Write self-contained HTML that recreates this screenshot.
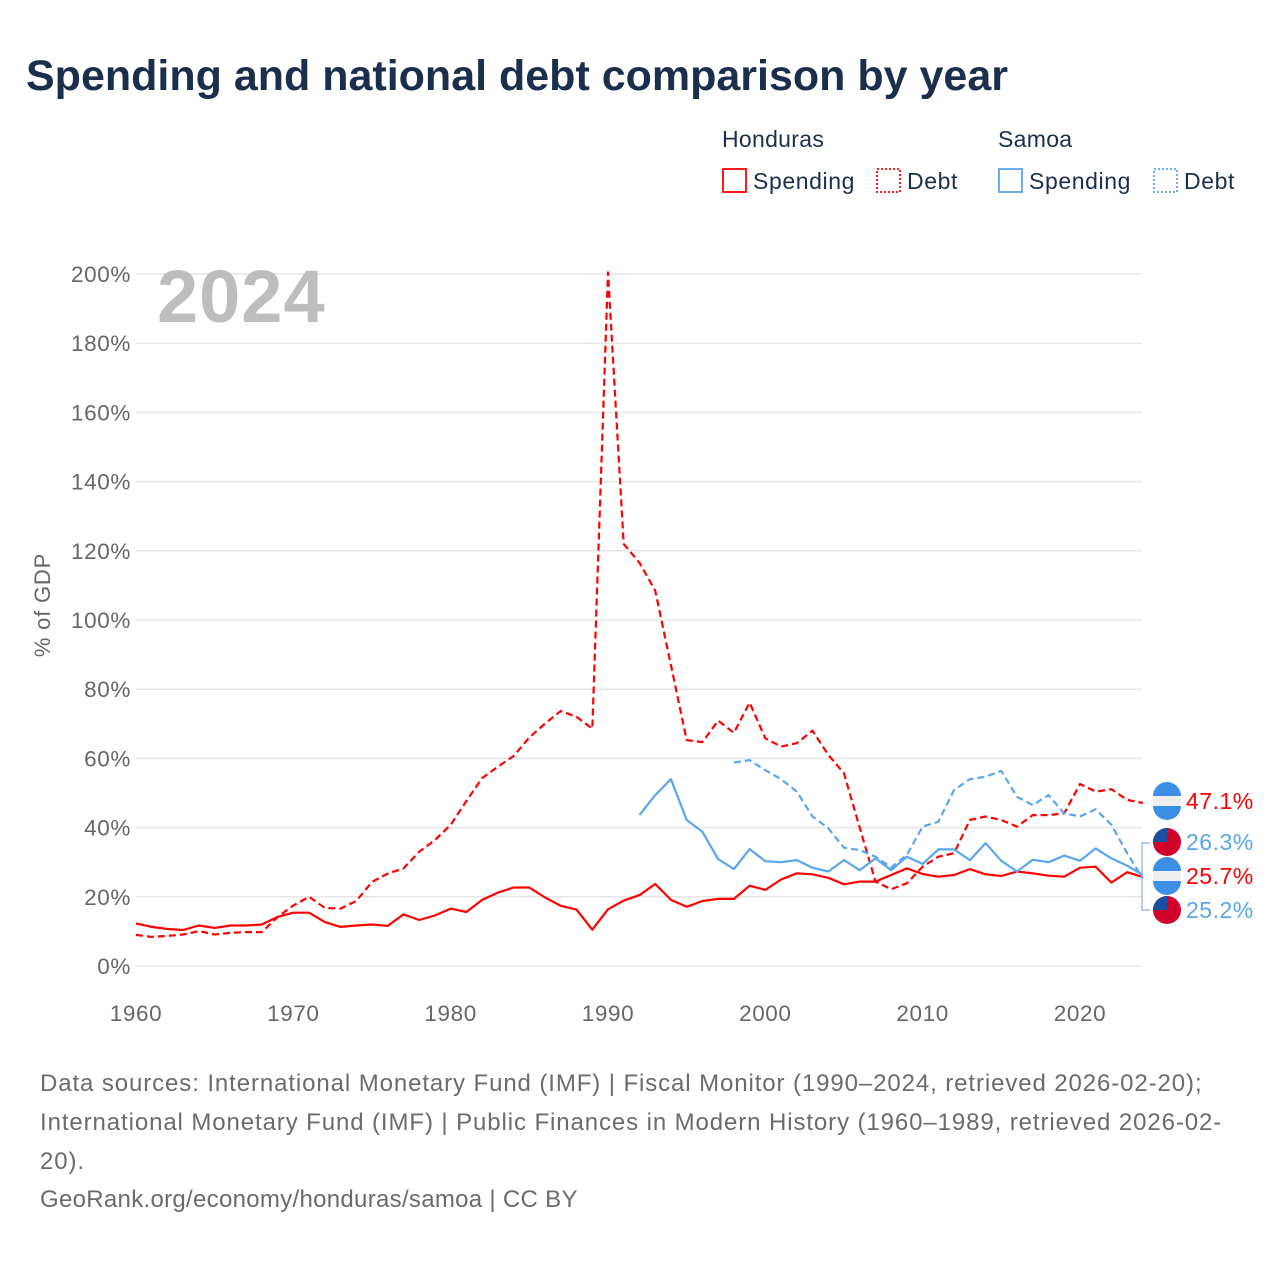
<!DOCTYPE html>
<html><head><meta charset="utf-8">
<style>
body{margin:0;background:#fff;font-family:"Liberation Sans",sans-serif;}
#wrap{position:relative;width:1280px;height:1280px;overflow:hidden;}
h1{position:absolute;left:26px;top:52px;margin:0;font-size:43px;font-weight:bold;color:#1b2f4d;letter-spacing:0px;}
.foot{position:absolute;left:40px;font-size:24px;color:#6b6b6b;letter-spacing:0.9px;}
</style></head>
<body>
<div id="wrap">
<h1>Spending and national debt comparison by year</h1>
<svg id="chart" width="1280" height="1280" style="position:absolute;left:0;top:0"></svg>
<div class="foot" style="top:1070px">Data sources: International Monetary Fund (IMF) | Fiscal Monitor (1990–2024, retrieved 2026-02-20);</div>
<div class="foot" style="top:1109px">International Monetary Fund (IMF) | Public Finances in Modern History (1960–1989, retrieved 2026-02-</div>
<div class="foot" style="top:1148px">20).</div>
<div class="foot" style="top:1186px;letter-spacing:0.3px">GeoRank.org/economy/honduras/samoa | CC BY</div>
</div>
<script>
const yTicks=[0,20,40,60,80,100,120,140,160,180,200];
const xTicks=[1960,1970,1980,1990,2000,2010,2020];
const hndYears0=1960;
const hndSpending=[12.3,11.3,10.7,10.4,11.7,11,11.7,11.7,12,14.2,15.4,15.4,12.7,11.3,11.7,12,11.6,14.9,13.3,14.6,16.6,15.6,19.1,21.2,22.7,22.7,19.8,17.4,16.3,10.5,
16.4,18.9,20.5,23.7,19.1,17.1,18.8,19.4,19.4,23.2,22,25,26.8,26.5,25.5,23.6,24.4,24.4,26.3,28.2,26.6,25.8,26.3,28,26.5,26,27.3,26.8,26.1,25.8,28.4,28.7,24.1,27.1,25.7];
const hndDebt=[9,8.4,8.7,9.1,10.1,9.1,9.6,9.8,9.8,14.2,17.5,20,16.8,16.6,18.8,24.3,26.7,28.2,33,36.4,40.8,47.7,54.3,57.6,60.7,66,70.1,73.7,72,68.6,
200.5,122,116.5,108.5,87,65.3,64.7,70.9,67.4,76.1,65.8,63.4,64.4,68,61,55.7,40,24.4,22.2,23.9,28.7,31.6,32.6,42.2,43.2,42.2,40.3,43.6,43.6,44.1,52.6,50.4,51.1,48,47.1];
const wsmSpendStart=1992;
const wsmSpending=[43.6,49.4,54,42.2,38.8,30.9,28,33.8,30.3,30,30.6,28.4,27.3,30.6,27.7,31.1,27.7,31.6,29.5,33.7,33.7,30.6,35.5,30.4,27.3,30.7,30,31.9,30.4,34,31.1,29,26.3];
const wsmDebtStart=1998;
const wsmDebt=[58.8,59.5,56.6,54,50.4,43.2,39.8,34.2,33.5,31.6,28.5,32.1,40.3,41.7,50.9,54,54.7,56.4,48.9,46.5,49.4,44.1,43.2,45.3,40.8,32.6,25.2];
const endLabels=["47.1%","26.3%","25.7%","25.2%"];

const NS="http://www.w3.org/2000/svg";
const svg=document.getElementById('chart');
const X=y=>136+(y-1960)*15.733;
const Y=v=>966-v*3.46;
function mk(t,a,p){const e=document.createElementNS(NS,t);for(const k in a)e.setAttribute(k,a[k]);(p||svg).appendChild(e);return e;}
function txt(s,a){const e=mk('text',a);e.textContent=s;return e;}

yTicks.forEach(v=>{
  const l=mk('line',{x1:136,x2:1142,y1:Y(v),y2:Y(v),stroke:'#e6e6e6','stroke-width':1.5});
  
  
  const t=txt(v+'%',{x:131,y:Y(v)+8,'text-anchor':'end','font-size':22.5,fill:'#666','letter-spacing':0.6});
  
  
});
xTicks.forEach(v=>{
  const t=txt(String(v),{x:X(v),y:1021,'text-anchor':'middle','font-size':22.5,fill:'#666','letter-spacing':0.6});
  
  
});
const yt=txt('% of GDP',{x:0,y:0,transform:'translate(50,605) rotate(-90)','text-anchor':'middle','font-size':22,fill:'#666','letter-spacing':0.8});


const yr=txt('2024',{x:157,y:322,'font-size':74,'font-weight':'bold',fill:'#bdbdbd','letter-spacing':1});



function series(arr,start,color,dash,name){
  const pts=arr.map((v,i)=>X(start+i).toFixed(1)+','+Y(v).toFixed(1)).join(' ');
  const p=mk('polyline',{points:pts,fill:'none',stroke:color,'stroke-width':2.2,'stroke-linejoin':'round'});
  if(dash)p.setAttribute('stroke-dasharray',dash);
  
  
}
series(hndSpending,hndYears0,'#ff0000',null,'honduras-spending-line');
series(hndDebt,hndYears0,'#ff0000','7,4','honduras-debt-line');
series(wsmSpending,wsmSpendStart,'#5aa6ec',null,'samoa-spending-line');
series(wsmDebt,wsmDebtStart,'#5aa6ec','7,4','samoa-debt-line');

const br=mk('polyline',{points:'1150,843 1142,843 1142,910 1150,910',fill:'none',stroke:'#7ab3ea','stroke-width':1.2});


const labY=[801,842,876,910];
const labC=['#ff0000','#5aa6ec','#ff0000','#5aa6ec'];
const flagHN=[true,false,true,false];
labY.forEach((y,i)=>{
  const g=mk('g',{});
  
  
  if(flagHN[i]){
    mk('circle',{cx:1167,cy:y,r:14,fill:'#eeeeee'},g);
    mk('path',{d:`M1153,${y-5} A14,14 0 0 1 1181,${y-5} Z`,fill:'#3c8fe6'},g);
    mk('path',{d:`M1153,${y+5} A14,14 0 0 0 1181,${y+5} Z`,fill:'#3c8fe6'},g);
  }else{
    mk('circle',{cx:1167,cy:y,r:14,fill:'#d0002b'},g);
    mk('path',{d:`M1167,${y} L1153,${y} A14,14 0 0 1 1167,${y-14} Z`,fill:'#1a4ea0'},g);
  }
  const t=txt(endLabels[i],{x:1186,y:y+8,'font-size':23,fill:labC[i],'letter-spacing':0.5});
  
  
});

function legTitle(s,x){const t=txt(s,{x:x,y:147,'font-size':23,fill:'#1b2f4d','letter-spacing':0.3});
  
  }
legTitle('Honduras',722);legTitle('Samoa',998);
function legItem(x,color,dash,label){
  const g=mk('g',{});
  
  
  const r=mk('rect',{x:x,y:169,width:23,height:23,fill:'none',stroke:color,'stroke-width':1.8},g);
  if(dash)r.setAttribute('stroke-dasharray','2,2');
  const t=mk('text',{x:x+30,y:189,'font-size':23,fill:'#1b2f4d','letter-spacing':0.6},g);t.textContent=label;
}
legItem(723,'#ff0000',false,'Spending');
legItem(877,'#ff0000',true,'Debt');
legItem(999,'#5aa6ec',false,'Spending');
legItem(1154,'#5aa6ec',true,'Debt');
</script>
</body></html>
